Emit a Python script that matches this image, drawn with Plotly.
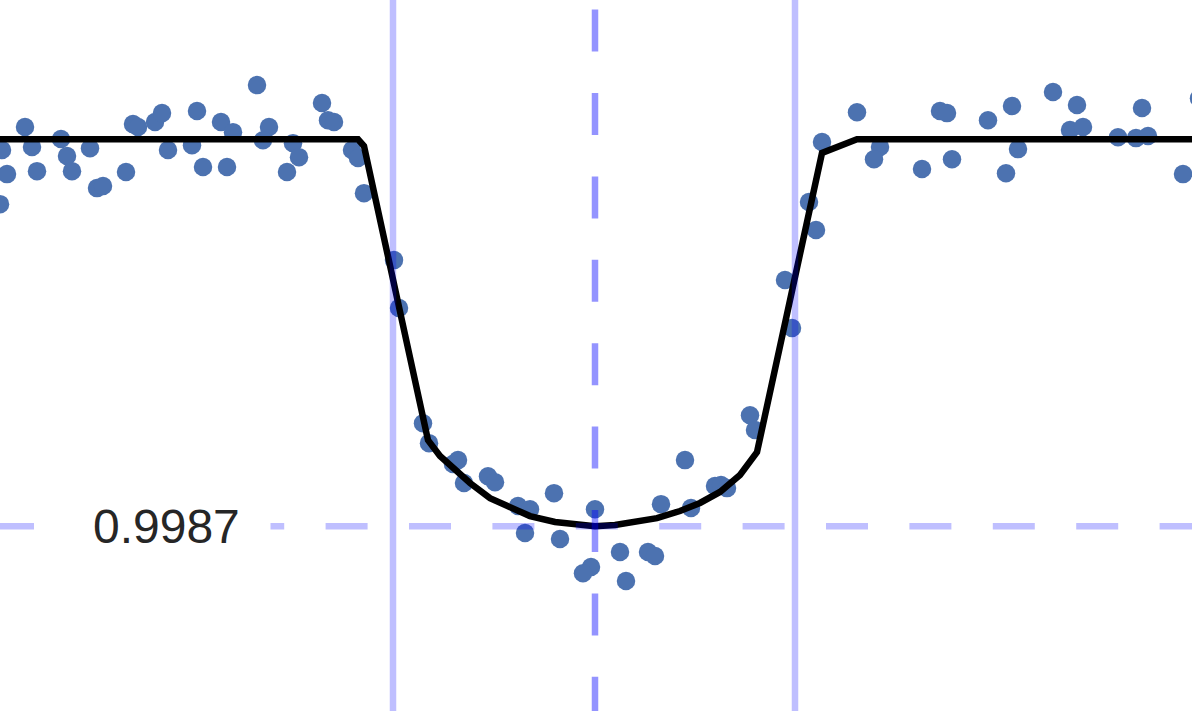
import plotly.graph_objects as go

# Observed light curve: time from mid-transit (minutes) and relative flux
time_min = [-296.5, -294, -297.5, -285, -281.5, -279, -267, -264, -261.5, -252.5,
            -249, -246, -234.5, -231, -228.5, -220, -216.5, -213.5, -201.5, -199,
            -196, -187, -181, -184, -169, -163, -166, -151, -148, -154,
            -136.5, -133.5, -130.5, -121.5, -118.5, -115.5,
            -100.5, -98, -86, -83,
            -71, -68.5, -65.5, -53.5, -50, -38.5, -32.5, -35, -20.5, -17.5,
            0, -2, -6, 12.5, 15.5, 26.5, 30, 33, 45, 48,
            60, 63, 66, 77.5, 80,
            95, 98.5, 107, 110.5, 113.5,
            131, 142.5, 139.5, 163.5, 172.5, 176, 178.5, 196.5, 205.5, 208.5,
            211.5, 229, 241, 237.5, 244, 261.5, 270.5, 276.5, 273.5, 294, 302]
flux = [0.999964, 0.999883, 0.999782, 1.000041, 0.999974, 0.999893, 1.000001, 0.999944, 0.999893, 0.999970,
        0.999836, 0.999843, 0.999890, 1.000051, 1.000041, 1.000058, 1.000088, 0.999964, 0.999980, 1.000095,
        0.999907, 1.000058, 1.000024, 0.999907, 1.000182, 1.000041, 0.999997, 0.999987, 0.999940, 0.999890,
        1.000122, 1.000064, 1.000058, 0.999964, 0.999937, 0.999819,
        0.999594, 0.999433, 0.999046, 0.998979,
        0.998909, 0.998922, 0.998845, 0.998868, 0.998848, 0.998768, 0.998757, 0.998677, 0.998811, 0.998657,
        0.998757, 0.998563, 0.998542, 0.998613, 0.998516, 0.998613, 0.998600, 0.998774, 0.998922, 0.998761,
        0.998835, 0.998838, 0.998828, 0.999073, 0.999023,
        0.999527, 0.999366, 0.999789, 0.999695, 0.999991,
        1.000091, 0.999974, 0.999933, 0.999900, 1.000095, 1.000088, 0.999933, 1.000064, 0.999886, 1.000112,
        0.999967, 1.000159, 1.000115, 1.000031, 1.000041, 1.000007, 1.000004, 1.000011, 1.000105, 0.999883, 1.000138]

# Transit model
model_time = [-297.5, -118.5, -115.5, -83.5, -77.5, -70, -62.5, -52.5, -42.5, -32.5, -20, -7.5,
              0, 10, 20, 31, 42.5, 52.5, 62.5, 72.5, 81, 113.5, 131, 298.5]
model_flux = [1.0, 1.0, 0.999977, 0.998989, 0.998936, 0.998888, 0.998845, 0.998794, 0.998761, 0.998734, 0.998714, 0.998704,
              0.998700, 0.998704, 0.998714, 0.998727, 0.998751, 0.998778, 0.998815, 0.998872, 0.998949, 0.999954, 1.0, 1.0]

# Reference markers
contact_times = [-101, 100]
mid_time = 0
depth_level = 0.9987
depth_label = "0.9987"

x_range = [-297.5, 298.5]
y_range = [0.998079, 1.000468]

fig = go.Figure()
fig.add_trace(go.Scatter(x=time_min, y=flux, mode="markers",
                         marker=dict(color="#4C72B0", size=18.5, line=dict(width=0)),
                         showlegend=False))
fig.add_trace(go.Scatter(x=model_time, y=model_flux, mode="lines",
                         line=dict(color="black", width=6.5), showlegend=False))

for t in contact_times:
    fig.add_shape(type="line", xref="x", yref="y", x0=t, x1=t, y0=y_range[0] - 0.001, y1=y_range[1] + 0.001,
                  line=dict(color="rgba(0,0,255,0.25)", width=6.5), layer="above")
fig.add_shape(type="line", xref="x", yref="y", x0=mid_time, x1=mid_time, y0=1.000716, y1=y_range[0] - 0.0005,
              line=dict(color="rgba(0,0,255,0.42)", width=6.5, dash="42px,41.4px"), layer="above")
fig.add_shape(type="line", xref="x", yref="y", x0=-301.5, x1=x_range[1] + 20, y0=depth_level, y1=depth_level,
              line=dict(color="rgba(0,0,255,0.25)", width=6.5, dash="42px,41.4px"), layer="above")

fig.add_annotation(x=-214.25, y=depth_level, xref="x", yref="y", text=depth_label, showarrow=False,
                   font=dict(family="Liberation Sans, Arial, sans-serif", size=48, color="#262626"),
                   bgcolor="white", borderpad=30, xanchor="center", yanchor="middle")

fig.update_xaxes(range=x_range, visible=False, showgrid=False, zeroline=False)
fig.update_yaxes(range=y_range, visible=False, showgrid=False, zeroline=False)
fig.update_layout(width=1192, height=711, margin=dict(l=0, r=0, t=0, b=0),
                  plot_bgcolor="white", paper_bgcolor="white")

fig.write_html("out.html")
